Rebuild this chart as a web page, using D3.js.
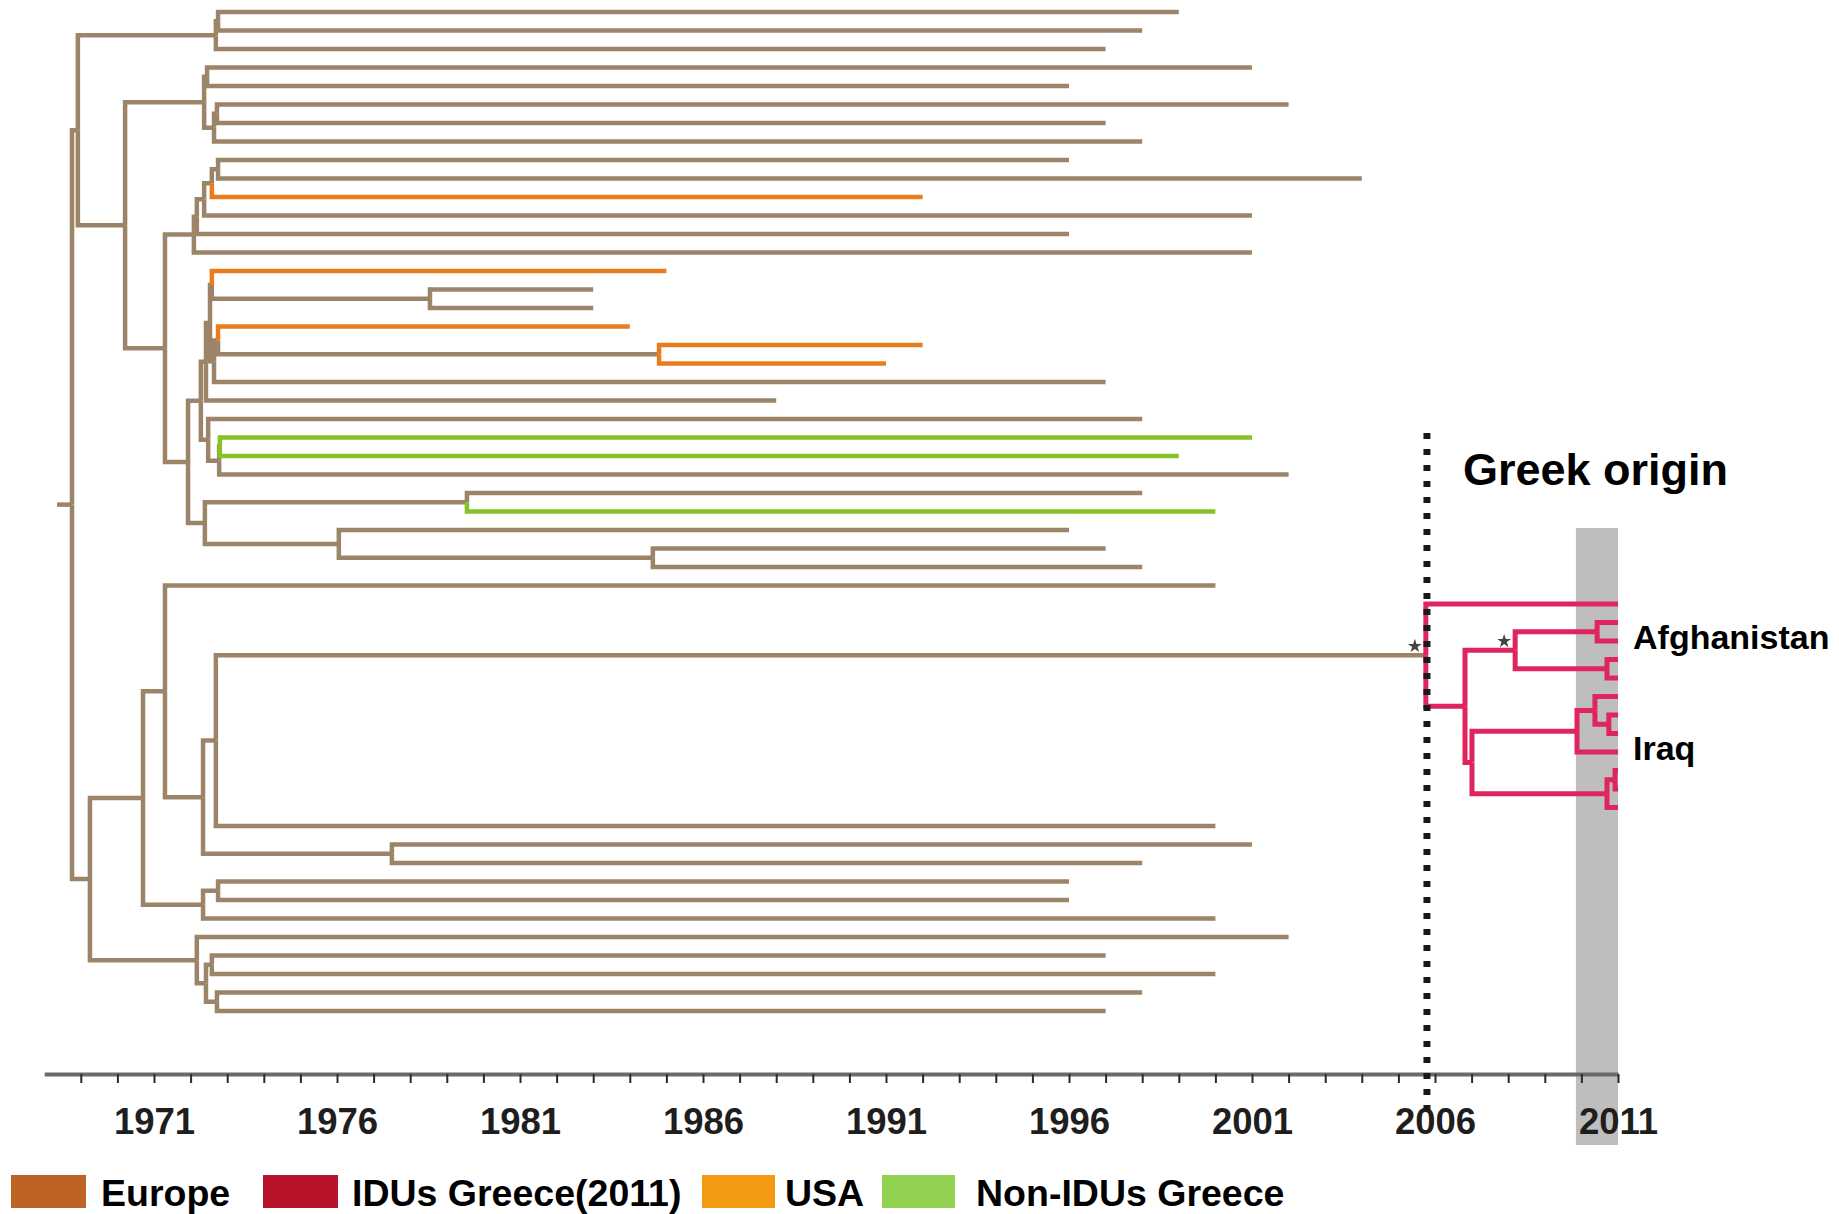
<!DOCTYPE html>
<html>
<head>
<meta charset="utf-8">
<script src="https://cdn.jsdelivr.net/npm/d3@7"></script>
<style>
  body { margin: 0; background: #fff; }
  svg { display: block; font-family: "Liberation Sans", Arial, sans-serif; }
</style>
</head>
<body>
<svg width="1839" height="1214"></svg>
<script>
// tree in preorder: [id, parent, year of node, group]
// children are listed top to bottom, so leaf order follows the rows
const treeRows = [
    ["root", null, 1968.76, "eu"],
    ["P1", "root", 1968.92, "eu"],
    ["N0", "P1", 1972.69, "eu"],
    ["N01", "N0", 1972.75, "eu"],
    ["t0", "N01", 1999, "eu"],
    ["t1", "N01", 1998, "eu"],
    ["t2", "N0", 1997, "eu"],
    ["P2", "P1", 1970.21, "eu"],
    ["P3", "P2", 1972.37, "eu"],
    ["N34", "P3", 1972.45, "eu"],
    ["t3", "N34", 2001, "eu"],
    ["t4", "N34", 1996, "eu"],
    ["N57", "P3", 1972.64, "eu"],
    ["N56", "N57", 1972.72, "eu"],
    ["t5", "N56", 2002, "eu"],
    ["t6", "N56", 1997, "eu"],
    ["t7", "N57", 1998, "eu"],
    ["P4", "P2", 1971.30, "eu"],
    ["Q1", "P4", 1972.09, "eu"],
    ["Q2", "Q1", 1972.17, "eu"],
    ["Q3", "Q2", 1972.37, "eu"],
    ["Q4", "Q3", 1972.58, "eu"],
    ["Q5", "Q4", 1972.75, "eu"],
    ["t8", "Q5", 1996, "eu"],
    ["t9", "Q5", 2004, "eu"],
    ["t10", "Q4", 1992, "usa"],
    ["t11", "Q3", 2001, "eu"],
    ["t12", "Q2", 1996, "eu"],
    ["t13", "Q1", 2001, "eu"],
    ["P5", "P4", 1971.93, "eu"],
    ["T1", "P5", 1972.28, "eu"],
    ["X", "T1", 1972.42, "eu"],
    ["Y", "X", 1972.53, "eu"],
    ["A1", "Y", 1972.58, "eu"],
    ["t14", "A1", 1985, "usa"],
    ["N1516", "A1", 1978.54, "eu"],
    ["t15", "N1516", 1983, "eu"],
    ["t16", "N1516", 1983, "eu"],
    ["B1", "Y", 1972.64, "eu"],
    ["A2", "B1", 1972.75, "eu"],
    ["t17", "A2", 1984, "usa"],
    ["N1819", "A2", 1984.80, "eu"],
    ["t18", "N1819", 1992, "usa"],
    ["t19", "N1819", 1991, "usa"],
    ["t20", "B1", 1997, "eu"],
    ["t21", "X", 1988, "eu"],
    ["T2", "T1", 1972.48, "eu"],
    ["t22", "T2", 1998, "eu"],
    ["GN", "T2", 1972.78, "eu"],
    ["G", "GN", 1972.80, "eu"],
    ["t23", "G", 2001, "non"],
    ["t24", "G", 1999, "non"],
    ["t25", "GN", 2002, "eu"],
    ["Bot", "P5", 1972.39, "eu"],
    ["M1", "Bot", 1979.55, "eu"],
    ["t26", "M1", 1998, "eu"],
    ["t27", "M1", 2000, "non"],
    ["M2", "Bot", 1976.05, "eu"],
    ["t28", "M2", 1996, "eu"],
    ["M3", "M2", 1984.63, "eu"],
    ["t29", "M3", 1997, "eu"],
    ["t30", "M3", 1998, "eu"],
    ["L1", "root", 1969.25, "eu"],
    ["L2", "L1", 1970.70, "eu"],
    ["L3", "L2", 1971.30, "eu"],
    ["t31", "L3", 2000, "eu"],
    ["L4", "L3", 1972.34, "eu"],
    ["L5", "L4", 1972.69, "eu"],
    ["R0", "L5", 2005.75, "eu"],
    ["r0", "R0", 2011, "idu"],
    ["RA", "R0", 2006.82, "idu"],
    ["RB", "RA", 2008.19, "idu"],
    ["RB1", "RB", 2010.43, "idu"],
    ["r1", "RB1", 2011, "idu"],
    ["r2", "RB1", 2011, "idu"],
    ["RB2", "RB", 2010.70, "idu"],
    ["r3", "RB2", 2011, "idu"],
    ["r4", "RB2", 2011, "idu"],
    ["RC", "RA", 2007.01, "idu"],
    ["RD", "RC", 2009.88, "idu"],
    ["RD1", "RD", 2010.37, "idu"],
    ["r5", "RD1", 2011, "idu"],
    ["RD2", "RD1", 2010.75, "idu"],
    ["r6", "RD2", 2011, "idu"],
    ["r7", "RD2", 2011, "idu"],
    ["r8", "RD", 2011, "idu"],
    ["RE", "RC", 2010.70, "idu"],
    ["RF", "RE", 2010.92, "idu"],
    ["r9", "RF", 2011, "idu"],
    ["r10", "RF", 2011, "idu"],
    ["r11", "RE", 2011, "idu"],
    ["t44", "L5", 2000, "eu"],
    ["L4b", "L4", 1977.50, "eu"],
    ["t45", "L4b", 2001, "eu"],
    ["t46", "L4b", 1998, "eu"],
    ["L6", "L2", 1972.34, "eu"],
    ["L6a", "L6", 1972.75, "eu"],
    ["t47", "L6a", 1996, "eu"],
    ["t48", "L6a", 1996, "eu"],
    ["t49", "L6", 2000, "eu"],
    ["L7", "L1", 1972.17, "eu"],
    ["t50", "L7", 2002, "eu"],
    ["L8", "L7", 1972.42, "eu"],
    ["L8a", "L8", 1972.58, "eu"],
    ["t51", "L8a", 1997, "eu"],
    ["t52", "L8a", 2000, "eu"],
    ["L8b", "L8", 1972.72, "eu"],
    ["t53", "L8b", 1998, "eu"],
    ["t54", "L8b", 1997, "eu"],
];

// nodes with a support star
const starNodes = ["R0", "RB"];

// groups
const groupKeys = ["eu", "idu", "usa", "non"];
const branchColors = ["#9b8468", "#e0245e", "#e97d1e", "#84c225"];
const legendLabels = ["Europe", "IDUs Greece(2011)", "USA", "Non-IDUs Greece"];
const legendColors = ["#bd6424", "#b9132b", "#f39a12", "#92d050"];

// axis
const minorTickYears = d3.range(1969, 2012);
const labelYears = [1971, 1976, 1981, 1986, 1991, 1996, 2001, 2006, 2011];

// annotations
const originYear = 2005.78;
const samplingYears = [2009.85, 2011];
const titleText = "Greek origin";
const clusterLabels = ["Afghanistan", "Iraq"];
const clusterLeafIndex = [34, 40];


const svg = d3.select("svg");

const x = d3.scaleLinear().domain([1968, 2011]).range([44.2, 1618]);
const leafCount = treeRows.filter(r => !treeRows.some(c => c[1] === r[0])).length;
const leafY = d3.scaleLinear().domain([0, leafCount - 1]).range([12, 1011]);
const colour = d3.scaleOrdinal().domain(groupKeys).range(branchColors);

const axisY = 1074;

// build tree
const root = d3.stratify()
    .id(d => d[0])
    .parentId(d => d[1])(treeRows);

let leafIndex = 0;
root.eachBefore(n => {
    n.px = x(n.data[2]);
    if (!n.children) n.py = leafY(leafIndex++);
});
root.eachAfter(n => {
    if (n.children) n.py = (n.children[0].py + n.children[n.children.length - 1].py) / 2;
});

// sampling band
svg.append("rect")
    .attr("x", x(samplingYears[0]))
    .attr("y", 528)
    .attr("width", x(samplingYears[1]) - x(samplingYears[0]))
    .attr("height", 1145 - 528)
    .attr("fill", "#bebebe");

// branches, brown first so colours sit on top
const branches = root.descendants().filter(n => n.parent);
branches.sort((a, b) => (a.data[3] === "eu" ? 0 : 1) - (b.data[3] === "eu" ? 0 : 1));

const tree = svg.append("g").attr("fill", "none").attr("stroke-linejoin", "miter");

tree.append("path")
    .attr("d", "M" + x(root.data[2] - 0.41) + "," + root.py + "H" + root.px)
    .attr("stroke", colour("eu"))
    .attr("stroke-width", 4.5);

tree.selectAll(".branch")
    .data(branches)
    .enter()
    .append("path")
    .attr("class", "branch")
    .attr("d", d => "M" + d.parent.px + "," + d.parent.py + "V" + d.py + "H" + d.px)
    .attr("stroke", d => colour(d.data[3]))
    .attr("stroke-width", d => d.data[3] === "idu" ? 5 : 4.5);

// support stars
svg.selectAll(".star")
    .data(root.descendants().filter(n => starNodes.includes(n.id)))
    .enter()
    .append("path")
    .attr("class", "star")
    .attr("d", d3.symbol().type(d3.symbolStar).size(60))
    .attr("transform", d => "translate(" + (d.px - 11) + "," + (d.py - 9) + ")")
    .attr("fill", "#444");

// axis with yearly ticks
const axisG = svg.append("g").attr("transform", "translate(0," + axisY + ")");
axisG.call(d3.axisBottom(x).tickValues(minorTickYears).tickSize(9).tickSizeOuter(0).tickFormat(""));
axisG.select(".domain").attr("stroke", "#6a6a6a").attr("stroke-width", 4);
axisG.selectAll(".tick line").attr("stroke", "#2a2a2a").attr("stroke-width", 2);

const labelG = svg.append("g").attr("transform", "translate(0," + axisY + ")");
labelG.call(d3.axisBottom(x).tickValues(labelYears).tickSize(0).tickPadding(34).tickFormat(d3.format("d")));
labelG.select(".domain").remove();
labelG.selectAll("text")
    .attr("font-family", "Liberation Sans, Arial, sans-serif")
    .attr("font-size", 36.5)
    .attr("font-weight", "bold")
    .attr("fill", "#1e1e1e");

// dotted line for the origin
svg.append("line")
    .attr("x1", x(originYear)).attr("x2", x(originYear))
    .attr("y1", 433).attr("y2", 1112)
    .attr("stroke", "#1a1a1a")
    .attr("stroke-width", 7)
    .attr("stroke-dasharray", "6,10");

svg.append("text")
    .attr("x", x(originYear) + 36)
    .attr("y", 485)
    .attr("font-size", 45)
    .attr("font-weight", "bold")
    .attr("fill", "#000")
    .text(titleText);

svg.selectAll(".cluster")
    .data(clusterLabels)
    .enter()
    .append("text")
    .attr("class", "cluster")
    .attr("x", x(2011) + 15)
    .attr("y", (d, i) => leafY(clusterLeafIndex[i]) + 7.5)
    .attr("font-size", 34)
    .attr("font-weight", "bold")
    .attr("fill", "#000")
    .text(d => d);

// legend (swatch left edge and text left edge)
const legendX = [11, 263, 702, 882];
const legendTextX = [101, 352, 785, 976];
const legend = svg.selectAll(".legend")
    .data(legendLabels)
    .enter()
    .append("g")
    .attr("class", "legend");

legend.append("rect")
    .attr("x", (d, i) => legendX[i])
    .attr("y", 1175)
    .attr("width", (d, i) => i < 2 ? 75 : 73)
    .attr("height", 33)
    .attr("fill", (d, i) => legendColors[i]);

legend.append("text")
    .attr("x", (d, i) => legendTextX[i])
    .attr("y", 1206)
    .attr("font-size", 37.5)
    .attr("font-weight", "bold")
    .attr("fill", "#000")
    .text(d => d);
</script>
</body>
</html>
